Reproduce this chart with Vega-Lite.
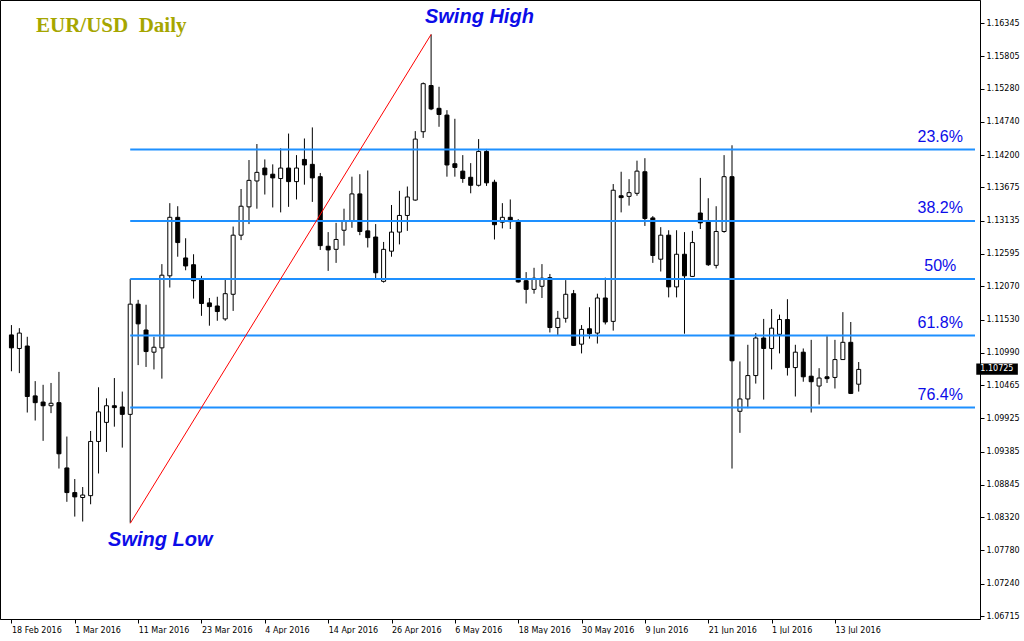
{
  "$schema": "https://vega.github.io/schema/vega-lite/v6.json",
  "width": 980,
  "height": 619,
  "padding": 0,
  "background": "white",
  "config": {
    "view": {"stroke": "black", "strokeWidth": 1},
    "axis": {"grid": false, "domainColor": "black", "tickColor": "black", "labelColor": "black", "labelFont": "DejaVu Sans", "labelFontSize": 8, "tickSize": 4, "labelOverlap": false, "labelFlush": false}
  },
  "layer": [
    {
      "data": {"values": [
        {"date":"2016-02-18","n":0,"open":1.1128,"high":1.1144,"low":1.1069,"close":1.1107},
        {"date":"2016-02-19","n":1,"open":1.1106,"high":1.1139,"low":1.1066,"close":1.1131},
        {"date":"2016-02-22","n":2,"open":1.1110,"high":1.1125,"low":1.1002,"close":1.1028},
        {"date":"2016-02-23","n":3,"open":1.1029,"high":1.1053,"low":1.0989,"close":1.1018},
        {"date":"2016-02-24","n":4,"open":1.1019,"high":1.1047,"low":1.0956,"close":1.1013},
        {"date":"2016-02-25","n":5,"open":1.1013,"high":1.1050,"low":1.1001,"close":1.1017},
        {"date":"2016-02-26","n":6,"open":1.1018,"high":1.1068,"low":1.0911,"close":1.0935},
        {"date":"2016-02-29","n":7,"open":1.0912,"high":1.0963,"low":1.0857,"close":1.0872},
        {"date":"2016-03-01","n":8,"open":1.0872,"high":1.0894,"low":1.0833,"close":1.0865},
        {"date":"2016-03-02","n":9,"open":1.0864,"high":1.0881,"low":1.0825,"close":1.0868},
        {"date":"2016-03-03","n":10,"open":1.0867,"high":1.0972,"low":1.0853,"close":1.0955},
        {"date":"2016-03-04","n":11,"open":1.0955,"high":1.1043,"low":1.0903,"close":1.1003},
        {"date":"2016-03-07","n":12,"open":1.0986,"high":1.1025,"low":1.0938,"close":1.1013},
        {"date":"2016-03-08","n":13,"open":1.1013,"high":1.1058,"low":1.0979,"close":1.1010},
        {"date":"2016-03-09","n":14,"open":1.1011,"high":1.1036,"low":1.0945,"close":1.0999},
        {"date":"2016-03-10","n":15,"open":1.0999,"high":1.1219,"low":1.0823,"close":1.1178},
        {"date":"2016-03-11","n":16,"open":1.1178,"high":1.1185,"low":1.1079,"close":1.1146},
        {"date":"2016-03-14","n":17,"open":1.1136,"high":1.1177,"low":1.1076,"close":1.1101},
        {"date":"2016-03-15","n":18,"open":1.1100,"high":1.1125,"low":1.1072,"close":1.1108},
        {"date":"2016-03-16","n":19,"open":1.1107,"high":1.1243,"low":1.1057,"close":1.1225},
        {"date":"2016-03-17","n":20,"open":1.1224,"high":1.1342,"low":1.1205,"close":1.1319},
        {"date":"2016-03-18","n":21,"open":1.1319,"high":1.1337,"low":1.1255,"close":1.1278},
        {"date":"2016-03-21","n":22,"open":1.1253,"high":1.1285,"low":1.1233,"close":1.1240},
        {"date":"2016-03-22","n":23,"open":1.1242,"high":1.1259,"low":1.1187,"close":1.1216},
        {"date":"2016-03-23","n":24,"open":1.1217,"high":1.1224,"low":1.1159,"close":1.1179},
        {"date":"2016-03-24","n":25,"open":1.1180,"high":1.1188,"low":1.1143,"close":1.1174},
        {"date":"2016-03-25","n":26,"open":1.1175,"high":1.1190,"low":1.1151,"close":1.1166},
        {"date":"2016-03-28","n":27,"open":1.1154,"high":1.1220,"low":1.1151,"close":1.1195},
        {"date":"2016-03-29","n":28,"open":1.1194,"high":1.1304,"low":1.1167,"close":1.1290},
        {"date":"2016-03-30","n":29,"open":1.1290,"high":1.1365,"low":1.1282,"close":1.1337},
        {"date":"2016-03-31","n":30,"open":1.1336,"high":1.1412,"low":1.1308,"close":1.1379},
        {"date":"2016-04-01","n":31,"open":1.1378,"high":1.1438,"low":1.1333,"close":1.1392},
        {"date":"2016-04-04","n":32,"open":1.1399,"high":1.1413,"low":1.1356,"close":1.1388},
        {"date":"2016-04-05","n":33,"open":1.1389,"high":1.1405,"low":1.1335,"close":1.1383},
        {"date":"2016-04-06","n":34,"open":1.1382,"high":1.1431,"low":1.1327,"close":1.1399},
        {"date":"2016-04-07","n":35,"open":1.1399,"high":1.1455,"low":1.1336,"close":1.1377},
        {"date":"2016-04-08","n":36,"open":1.1377,"high":1.1420,"low":1.1348,"close":1.1399},
        {"date":"2016-04-11","n":37,"open":1.1413,"high":1.1447,"low":1.1372,"close":1.1404},
        {"date":"2016-04-12","n":38,"open":1.1405,"high":1.1465,"low":1.1344,"close":1.1383},
        {"date":"2016-04-13","n":39,"open":1.1385,"high":1.1391,"low":1.1266,"close":1.1273},
        {"date":"2016-04-14","n":40,"open":1.1272,"high":1.1295,"low":1.1232,"close":1.1266},
        {"date":"2016-04-15","n":41,"open":1.1267,"high":1.1310,"low":1.1245,"close":1.1283},
        {"date":"2016-04-18","n":42,"open":1.1298,"high":1.1333,"low":1.1273,"close":1.1313},
        {"date":"2016-04-19","n":43,"open":1.1313,"high":1.1385,"low":1.1302,"close":1.1357},
        {"date":"2016-04-20","n":44,"open":1.1357,"high":1.1389,"low":1.1290,"close":1.1296},
        {"date":"2016-04-21","n":45,"open":1.1297,"high":1.1395,"low":1.1270,"close":1.1286},
        {"date":"2016-04-22","n":46,"open":1.1287,"high":1.1308,"low":1.1218,"close":1.1229},
        {"date":"2016-04-25","n":47,"open":1.1215,"high":1.1279,"low":1.1213,"close":1.1267},
        {"date":"2016-04-26","n":48,"open":1.1264,"high":1.1339,"low":1.1255,"close":1.1295},
        {"date":"2016-04-27","n":49,"open":1.1295,"high":1.1362,"low":1.1275,"close":1.1322},
        {"date":"2016-04-28","n":50,"open":1.1322,"high":1.1369,"low":1.1297,"close":1.1352},
        {"date":"2016-04-29","n":51,"open":1.1347,"high":1.1459,"low":1.1346,"close":1.1446},
        {"date":"2016-05-02","n":52,"open":1.1458,"high":1.1538,"low":1.1448,"close":1.1536},
        {"date":"2016-05-03","n":53,"open":1.1533,"high":1.1616,"low":1.1493,"close":1.1495},
        {"date":"2016-05-04","n":54,"open":1.1496,"high":1.1531,"low":1.1466,"close":1.1486},
        {"date":"2016-05-05","n":55,"open":1.1485,"high":1.1493,"low":1.1385,"close":1.1404},
        {"date":"2016-05-06","n":56,"open":1.1406,"high":1.1479,"low":1.1385,"close":1.1400},
        {"date":"2016-05-09","n":57,"open":1.1394,"high":1.1420,"low":1.1375,"close":1.1382},
        {"date":"2016-05-10","n":58,"open":1.1384,"high":1.1407,"low":1.1358,"close":1.1371},
        {"date":"2016-05-11","n":59,"open":1.1371,"high":1.1446,"low":1.1369,"close":1.1426},
        {"date":"2016-05-12","n":60,"open":1.1426,"high":1.1430,"low":1.1370,"close":1.1375},
        {"date":"2016-05-13","n":61,"open":1.1376,"high":1.1380,"low":1.1283,"close":1.1307},
        {"date":"2016-05-16","n":62,"open":1.1311,"high":1.1342,"low":1.1301,"close":1.1319},
        {"date":"2016-05-17","n":63,"open":1.1319,"high":1.1348,"low":1.1300,"close":1.1312},
        {"date":"2016-05-18","n":64,"open":1.1313,"high":1.1316,"low":1.1213,"close":1.1214},
        {"date":"2016-05-19","n":65,"open":1.1216,"high":1.1230,"low":1.1179,"close":1.1202},
        {"date":"2016-05-20","n":66,"open":1.1202,"high":1.1237,"low":1.1195,"close":1.1220},
        {"date":"2016-05-23","n":67,"open":1.1207,"high":1.1243,"low":1.1188,"close":1.1220},
        {"date":"2016-05-24","n":68,"open":1.1221,"high":1.1227,"low":1.1132,"close":1.1140},
        {"date":"2016-05-25","n":69,"open":1.1140,"high":1.1167,"low":1.1128,"close":1.1155},
        {"date":"2016-05-26","n":70,"open":1.1155,"high":1.1217,"low":1.1148,"close":1.1194},
        {"date":"2016-05-27","n":71,"open":1.1195,"high":1.1201,"low":1.1110,"close":1.1111},
        {"date":"2016-05-30","n":72,"open":1.1113,"high":1.1144,"low":1.1098,"close":1.1137},
        {"date":"2016-05-31","n":73,"open":1.1138,"high":1.1173,"low":1.1122,"close":1.1130},
        {"date":"2016-06-01","n":74,"open":1.1131,"high":1.1195,"low":1.1114,"close":1.1188},
        {"date":"2016-06-02","n":75,"open":1.1188,"high":1.1221,"low":1.1145,"close":1.1149},
        {"date":"2016-06-03","n":76,"open":1.1150,"high":1.1373,"low":1.1135,"close":1.1363},
        {"date":"2016-06-06","n":77,"open":1.1354,"high":1.1393,"low":1.1327,"close":1.1351},
        {"date":"2016-06-07","n":78,"open":1.1353,"high":1.1381,"low":1.1338,"close":1.1359},
        {"date":"2016-06-08","n":79,"open":1.1358,"high":1.1411,"low":1.1354,"close":1.1394},
        {"date":"2016-06-09","n":80,"open":1.1393,"high":1.1415,"low":1.1305,"close":1.1317},
        {"date":"2016-06-10","n":81,"open":1.1318,"high":1.1321,"low":1.1245,"close":1.1257},
        {"date":"2016-06-13","n":82,"open":1.1251,"high":1.1303,"low":1.1231,"close":1.1290},
        {"date":"2016-06-14","n":83,"open":1.1290,"high":1.1298,"low":1.1189,"close":1.1206},
        {"date":"2016-06-15","n":84,"open":1.1206,"high":1.1298,"low":1.1189,"close":1.1259},
        {"date":"2016-06-16","n":85,"open":1.1259,"high":1.1295,"low":1.1130,"close":1.1224},
        {"date":"2016-06-17","n":86,"open":1.1223,"high":1.1297,"low":1.1222,"close":1.1278},
        {"date":"2016-06-20","n":87,"open":1.1326,"high":1.1383,"low":1.1300,"close":1.1310},
        {"date":"2016-06-21","n":88,"open":1.1313,"high":1.1350,"low":1.1240,"close":1.1242},
        {"date":"2016-06-22","n":89,"open":1.1241,"high":1.1337,"low":1.1236,"close":1.1296},
        {"date":"2016-06-23","n":90,"open":1.1296,"high":1.1420,"low":1.1294,"close":1.1385},
        {"date":"2016-06-24","n":91,"open":1.1385,"high":1.1436,"low":1.0911,"close":1.1086},
        {"date":"2016-06-27","n":92,"open":1.1004,"high":1.1085,"low":1.0969,"close":1.1024},
        {"date":"2016-06-28","n":93,"open":1.1024,"high":1.1112,"low":1.1009,"close":1.1062},
        {"date":"2016-06-29","n":94,"open":1.1062,"high":1.1131,"low":1.1049,"close":1.1123},
        {"date":"2016-06-30","n":95,"open":1.1123,"high":1.1154,"low":1.1023,"close":1.1106},
        {"date":"2016-07-01","n":96,"open":1.1106,"high":1.1170,"low":1.1072,"close":1.1139},
        {"date":"2016-07-04","n":97,"open":1.1129,"high":1.1161,"low":1.1098,"close":1.1153},
        {"date":"2016-07-05","n":98,"open":1.1153,"high":1.1186,"low":1.1062,"close":1.1075},
        {"date":"2016-07-06","n":99,"open":1.1075,"high":1.1112,"low":1.1028,"close":1.1100},
        {"date":"2016-07-07","n":100,"open":1.1100,"high":1.1106,"low":1.1052,"close":1.1060},
        {"date":"2016-07-08","n":101,"open":1.1061,"high":1.1120,"low":1.1002,"close":1.1052},
        {"date":"2016-07-11","n":102,"open":1.1045,"high":1.1074,"low":1.1015,"close":1.1058},
        {"date":"2016-07-12","n":103,"open":1.1060,"high":1.1126,"low":1.1050,"close":1.1057},
        {"date":"2016-07-13","n":104,"open":1.1059,"high":1.1120,"low":1.1041,"close":1.1088},
        {"date":"2016-07-14","n":105,"open":1.1088,"high":1.1165,"low":1.1088,"close":1.1116},
        {"date":"2016-07-15","n":106,"open":1.1116,"high":1.1149,"low":1.1032,"close":1.1033},
        {"date":"2016-07-18","n":107,"open":1.1048,"high":1.1084,"low":1.1036,"close":1.1072}
      ]},
      "layer": [
        {
          "mark": {"type": "rule", "color": "black", "strokeWidth": 1},
          "encoding": {
            "x": {"field": "n", "type": "quantitative", "title": null,
              "scale": {"domain": [-0.8125, 121.6875], "nice": false, "zero": false},
              "axis": {"values": [0,8,16,24,32,40,48,56,64,72,80,88,96,104], "tickCount": 40,
                "labelExpr": "['18 Feb 2016','1 Mar 2016','11 Mar 2016','23 Mar 2016','4 Apr 2016','14 Apr 2016','26 Apr 2016','6 May 2016','18 May 2016','30 May 2016','9 Jun 2016','21 Jun 2016','1 Jul 2016','13 Jul 2016'][datum.value/8]",
                "labelAlign": "left", "labelPadding": 3, "labelDx": 0, "labelFlush": false, "labelOverlap": false}},
            "y": {"field": "low", "type": "quantitative", "title": null,
              "scale": {"domain": [1.06667, 1.16719], "nice": false, "zero": false},
              "axis": {"orient": "right", "format": ".5f", "labelPadding": 2, "labelOverlap": false, "labelFlush": false, "tickCount": 40,
                "values": [1.16345,1.15805,1.1528,1.1474,1.142,1.13675,1.13135,1.12595,1.1207,1.1153,1.1099,1.10465,1.09925,1.09385,1.08845,1.0832,1.0778,1.0724,1.06715]}},
            "y2": {"field": "high"}
          }
        },
        {
          "mark": {"type": "bar", "width": 4, "stroke": "black", "strokeWidth": 1},
          "encoding": {
            "x": {"field": "n", "type": "quantitative", "title": null},
            "y": {"field": "open", "type": "quantitative", "title": null},
            "y2": {"field": "close"},
            "fill": {"condition": {"test": "datum.close < datum.open", "value": "black"}, "value": "white"}
          }
        }
      ]
    },
    {
      "data": {"values": [
        {"level": "23.6%", "price": 1.1429},
        {"level": "38.2%", "price": 1.1313},
        {"level": "50%", "price": 1.1219},
        {"level": "61.8%", "price": 1.1127},
        {"level": "76.4%", "price": 1.1010}
      ]},
      "layer": [
        {
          "mark": {"type": "rule", "color": "#1e90ff", "strokeWidth": 2},
          "encoding": {
            "x": {"datum": 15, "type": "quantitative"},
            "x2": {"datum": 121.6875},
            "y": {"field": "price", "type": "quantitative", "title": null}
          }
        },
        {
          "mark": {"type": "text", "font": "Liberation Sans", "fontSize": 16, "fill": "#0c0ce8", "align": "center", "baseline": "bottom", "dy": -5},
          "encoding": {
            "x": {"datum": 117.3, "type": "quantitative"},
            "y": {"field": "price", "type": "quantitative", "title": null},
            "text": {"field": "level"}
          }
        }
      ]
    },
    {
      "data": {"values": [
        {"n": 15, "price": 1.0822},
        {"n": 53, "price": 1.1616}
      ]},
      "mark": {"type": "line", "color": "#ff0000", "strokeWidth": 1},
      "encoding": {
        "x": {"field": "n", "type": "quantitative", "title": null},
        "y": {"field": "price", "type": "quantitative", "title": null}
      }
    },
    {
      "data": {"values": [
        {"label": "Swing High", "n": 59.1, "price": 1.1634},
        {"label": "Swing Low", "n": 18.8, "price": 1.0785}
      ]},
      "mark": {"type": "text", "font": "Liberation Sans", "fontSize": 20, "fontWeight": "bold", "fontStyle": "italic", "fill": "#0c0ce8", "align": "center", "baseline": "alphabetic"},
      "encoding": {
        "x": {"field": "n", "type": "quantitative", "title": null},
        "y": {"field": "price", "type": "quantitative", "title": null},
        "text": {"field": "label"}
      }
    },
    {
      "data": {"values": [
        {"label": "EUR/USD\u00a0 Daily", "n": 3.1, "price": 1.1620}
      ]},
      "mark": {"type": "text", "font": "Liberation Serif", "fontSize": 21, "fontWeight": "bold", "fill": "#a6a600", "align": "left", "baseline": "alphabetic"},
      "encoding": {
        "x": {"field": "n", "type": "quantitative", "title": null},
        "y": {"field": "price", "type": "quantitative", "title": null},
        "text": {"field": "label"}
      }
    },
    {
      "data": {"values": [
        {"label": "1.10725", "price": 1.10725}
      ]},
      "layer": [
        {
          "mark": {"type": "rect", "fill": "black"},
          "encoding": {
            "x": {"datum": 121.85, "type": "quantitative"},
            "x2": {"datum": 127.1},
            "y": {"datum": 1.10818, "type": "quantitative"},
            "y2": {"datum": 1.10632}
          }
        },
        {
          "mark": {"type": "text", "font": "DejaVu Sans", "fontSize": 8, "fill": "white", "align": "center", "baseline": "middle"},
          "encoding": {
            "x": {"datum": 124.45, "type": "quantitative"},
            "y": {"field": "price", "type": "quantitative", "title": null},
            "text": {"field": "label"}
          }
        }
      ]
    }
  ]
}
